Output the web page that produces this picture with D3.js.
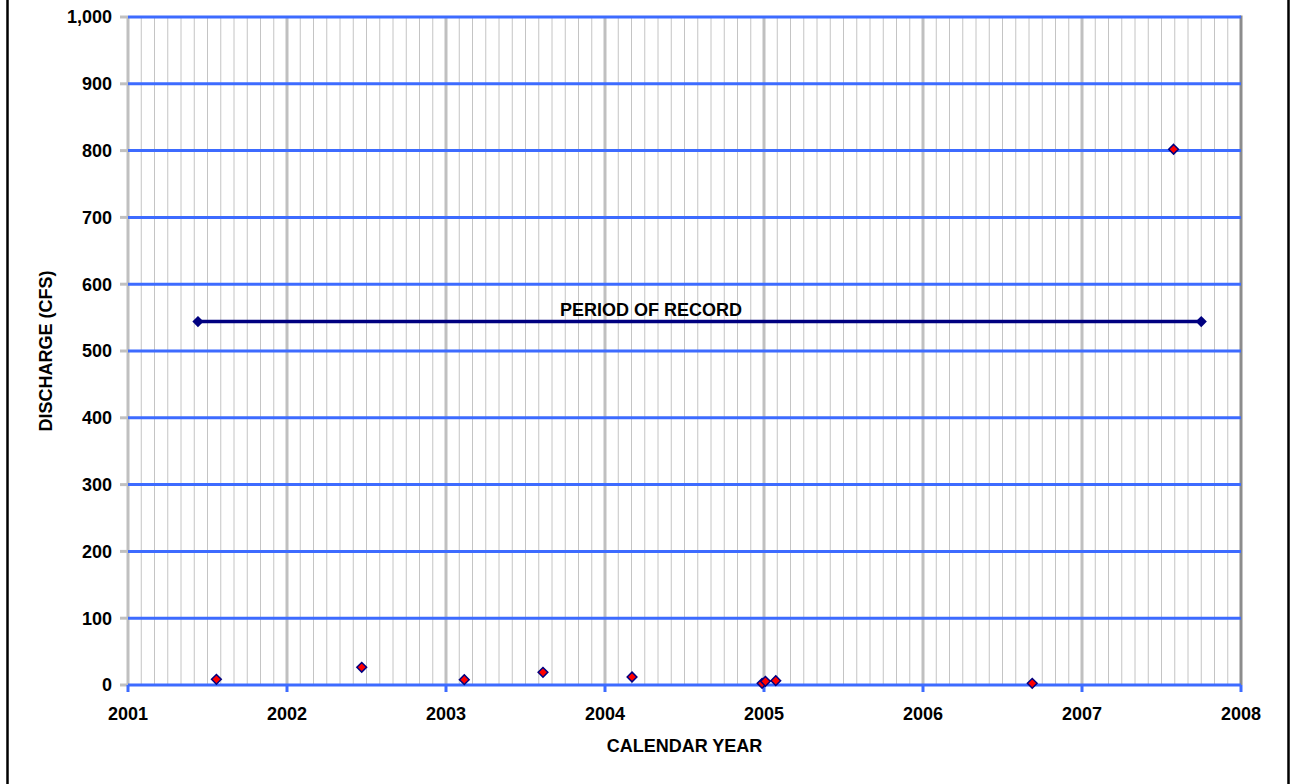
<!DOCTYPE html>
<html><head><meta charset="utf-8">
<script src="https://cdn.jsdelivr.net/npm/d3@7"></script>
<style>html,body{margin:0;padding:0;background:#fff;}svg{display:block;font-family:"Liberation Sans",Arial,sans-serif;}</style>
</head><body>
<svg id="c" width="1293" height="784"></svg>
<script>
// Data (decimal calendar year, discharge cfs)
const sampleDates = [2001.556, 2002.47, 2003.115, 2003.61, 2004.17, 2004.988, 2005.009, 2005.074, 2006.687, 2007.576];
const sampleValues = [8.5, 26.5, 8, 19, 12, 2.5, 5.5, 6.5, 2.5, 802];
const recordDates = [2001.44, 2007.75];
const recordValues = [544, 544];
const recordLabel = "PERIOD OF RECORD";
const recordLabelYear = 2004.29;
const xTicks = [2001, 2002, 2003, 2004, 2005, 2006, 2007, 2008];
const yTicks = [0, 100, 200, 300, 400, 500, 600, 700, 800, 900, 1000];
const xTitle = "CALENDAR YEAR";
const yTitle = "DISCHARGE (CFS)";

const svg = d3.select("#c");
const L = 128, R = 1241, T = 17, B = 685;
const x = d3.scaleLinear().domain([2001, 2008]).range([L, R]);
const y = d3.scaleLinear().domain([0, 1000]).range([B, T]);
const font = "bold 18px 'Liberation Sans', Arial, sans-serif";

// outer frame (vertical lines)
svg.append("line").attr("x1", 7.5).attr("x2", 7.5).attr("y1", 0).attr("y2", 784).attr("stroke", "#000").attr("stroke-width", 2.5);
svg.append("line").attr("x1", 1288.5).attr("x2", 1288.5).attr("y1", 0).attr("y2", 784).attr("stroke", "#000").attr("stroke-width", 2.5);

const g = svg.append("g");
// minor monthly gridlines
const months = d3.range(2001, 2008).flatMap(yr => d3.range(1, 12).map(m => yr + m / 12));
g.selectAll(".minor").data(months).join("line")
  .attr("x1", d => x(d)).attr("x2", d => x(d)).attr("y1", T).attr("y2", B)
  .attr("stroke", "#c4c4c4").attr("stroke-width", 1);
// major yearly gridlines
g.selectAll(".major").data(xTicks.slice(0, -1)).join("line")
  .attr("x1", d => x(d)).attr("x2", d => x(d)).attr("y1", T).attr("y2", B)
  .attr("stroke", "#c0c0c0").attr("stroke-width", 3);
// right border
g.append("line").attr("x1", R).attr("x2", R).attr("y1", T - 1.5).attr("y2", B)
  .attr("stroke", "#8c8c8c").attr("stroke-width", 3);
// y tick marks (gray, left)
g.selectAll(".ytk").data(yTicks).join("line")
  .attr("x1", L - 8).attr("x2", L).attr("y1", d => y(d)).attr("y2", d => y(d))
  .attr("stroke", "#c0c0c0").attr("stroke-width", 3);
// horizontal blue gridlines
g.selectAll(".hgrid").data(yTicks).join("line")
  .attr("x1", L).attr("x2", R).attr("y1", d => y(d)).attr("y2", d => y(d))
  .attr("stroke", "#3d6bff").attr("stroke-width", 3);
// x ticks (blue, below)
g.selectAll(".xtk").data(xTicks).join("line")
  .attr("x1", d => x(d)).attr("x2", d => x(d)).attr("y1", B).attr("y2", B + 7)
  .attr("stroke", "#3d6bff").attr("stroke-width", 3);

// tick labels
g.selectAll(".ylab").data(yTicks).join("text")
  .attr("x", 112).attr("y", d => y(d)).attr("dy", "0.36em")
  .attr("text-anchor", "end").style("font", font).attr("fill", "#000")
  .text(d => d3.format(",")(d));
g.selectAll(".xlab").data(xTicks).join("text")
  .attr("x", d => x(d)).attr("y", 720)
  .attr("text-anchor", "middle").style("font", font).attr("fill", "#000")
  .text(d => d);

// titles
svg.append("text").attr("x", 684.5).attr("y", 752).attr("text-anchor", "middle")
  .style("font", font).text(xTitle);
svg.append("text").attr("transform", "translate(52,351) rotate(-90)").attr("text-anchor", "middle")
  .style("font", font).text(yTitle);

// period of record
const recPts = recordDates.map((d, i) => [d, recordValues[i]]);
g.append("path").datum(recPts)
  .attr("d", d3.line().x(d => x(d[0])).y(d => y(d[1])))
  .attr("stroke", "#000080").attr("stroke-width", 3.5).attr("fill", "none");
g.selectAll(".rec").data(recPts).join("path")
  .attr("transform", d => `translate(${x(d[0])},${y(d[1])})`)
  .attr("d", d3.symbol().type(d3.symbolDiamond2).size(80)).attr("fill", "#000080");
g.append("text").attr("x", x(recordLabelYear)).attr("y", 316)
  .attr("text-anchor", "middle").style("font", font).text(recordLabel);

// samples
const pts = sampleDates.map((d, i) => [d, sampleValues[i]]);
g.selectAll(".pt").data(pts).join("path")
  .attr("transform", d => `translate(${x(d[0])},${y(d[1])})`)
  .attr("d", d3.symbol().type(d3.symbolDiamond2).size(60))
  .attr("fill", "#ff0000").attr("stroke", "#000080").attr("stroke-width", 1.5);
</script>
</body></html>
